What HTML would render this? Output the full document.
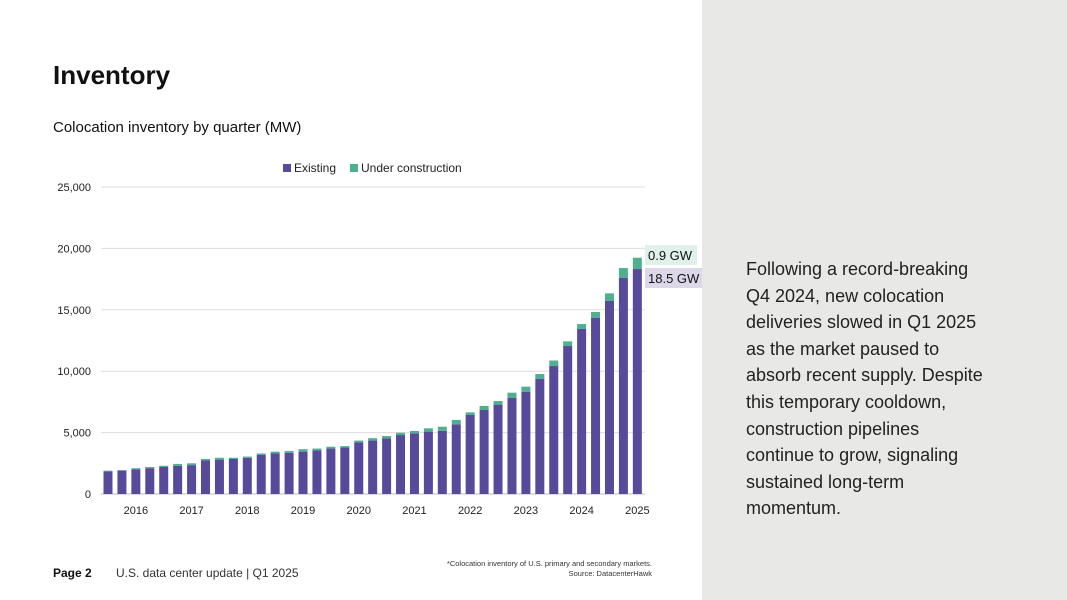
<!DOCTYPE html>
<html><head><meta charset="utf-8">
<style>
body{margin:0;width:1067px;height:600px;position:relative;background:#fff;font-family:"Liberation Sans",sans-serif;overflow:hidden;color:#111}
.abs{position:absolute}
</style></head><body>
<div class="abs" style="left:702px;top:0;width:365px;height:600px;background:#e8e8e6"></div>
<div class="abs" style="left:53px;top:60px;font-size:26px;font-weight:bold">Inventory</div>
<div class="abs" style="left:53px;top:119px;font-size:15px">Colocation inventory by quarter (MW)</div>
<div class="abs" style="left:746px;top:256px;width:300px;font-size:18px;line-height:26.6px;color:#222;white-space:nowrap">Following a record-breaking<br>Q4 2024, new colocation<br>deliveries slowed in Q1 2025<br>as the market paused to<br>absorb recent supply. Despite<br>this temporary cooldown,<br>construction pipelines<br>continue to grow, signaling<br>sustained long-term<br>momentum.</div>
<div class="abs" style="left:53px;top:566px;font-size:12px;font-weight:bold">Page 2</div>
<div class="abs" style="left:116px;top:566px;font-size:12px;color:#333">U.S. data center update | Q1 2025</div>
<div class="abs" style="right:415px;top:559px;font-size:7.5px;text-align:right;color:#333;line-height:10px">*Colocation inventory of U.S. primary and secondary markets.<br>Source: DatacenterHawk</div>
<svg class="abs" style="left:0;top:0" width="702" height="600" id="chart"></svg>
<script>
const categories=[];for(let y=2015;y<=2025;y++)for(let q=1;q<=4;q++){if((y===2015&&q<3)||(y===2025&&q>1))continue;categories.push(y+" Q"+q);}
const existing=[1850,1900,2000,2100,2200,2300,2350,2750,2800,2850,2950,3200,3300,3350,3450,3550,3700,3800,4200,4350,4530,4800,4940,5080,5150,5670,6460,6840,7280,7840,8330,9390,10420,12050,13440,14360,15720,17610,18320];
const construction=[50,50,100,100,100,150,150,100,150,100,100,100,150,150,200,150,150,100,150,200,190,190,190,270,330,360,190,330,290,410,410,380,450,380,400,460,620,790,920];
const yTicks=[0,5000,10000,15000,20000,25000];
const NS="http://www.w3.org/2000/svg",svg=document.getElementById('chart');
const x0=108,step=13.93,y0=494,yMax=25000,yTop=187;
const X=i=>x0+i*step, Y=v=>y0-(v/yMax)*(y0-yTop);
function mk(t,a,txt){const e=document.createElementNS(NS,t);for(const k in a)e.setAttribute(k,a[k]);if(txt!==undefined)e.textContent=txt;svg.appendChild(e);return e;}
yTicks.forEach(v=>{
const g=mk('line',{x1:101,x2:645,y1:Y(v),y2:Y(v),stroke:v===0?'#bbb':'#ddd','stroke-width':1});


const t=mk('text',{x:91,y:Y(v)+4,'text-anchor':'end','font-size':11,fill:'#222','font-family':'Liberation Sans'},v.toLocaleString('en-US'));


});
categories.forEach((c,i)=>{
const e=existing[i],u=construction[i];
const b=mk('rect',{x:X(i)-4.5,width:9,y:Y(e),height:y0-Y(e),fill:'#574a9a'});


const g=mk('rect',{x:X(i)-4.5,width:9,y:Y(e+u),height:Y(e)-Y(e+u),fill:'#4fb08f'});


if(c.endsWith('Q1')){const t=mk('text',{x:X(i),y:514,'text-anchor':'middle','font-size':11,fill:'#222','font-family':'Liberation Sans'},c.slice(0,4));

}
});
[['#574a9a','Existing',283],['#4fb08f','Under construction',350]].forEach(([col,lab,x])=>{
const r=mk('rect',{x:x,y:164,width:8,height:8,fill:col});


const t=mk('text',{x:x+11,y:172,'font-size':12,fill:'#222','font-family':'Liberation Sans'},lab);


});
const last=existing.length-1;
const b1=mk('rect',{x:645,y:245,width:52,height:20,fill:'#dff1ea'});


const t1=mk('text',{x:648,y:260,'font-size':13,fill:'#111','font-family':'Liberation Sans'},(construction[last]/1000).toFixed(1)+' GW');


const b2=mk('rect',{x:645,y:268,width:57,height:20,fill:'#dcd8ea'});


const t2=mk('text',{x:648,y:283,'font-size':13,fill:'#111','font-family':'Liberation Sans'},'18.5 GW');


</script>
</body></html>
